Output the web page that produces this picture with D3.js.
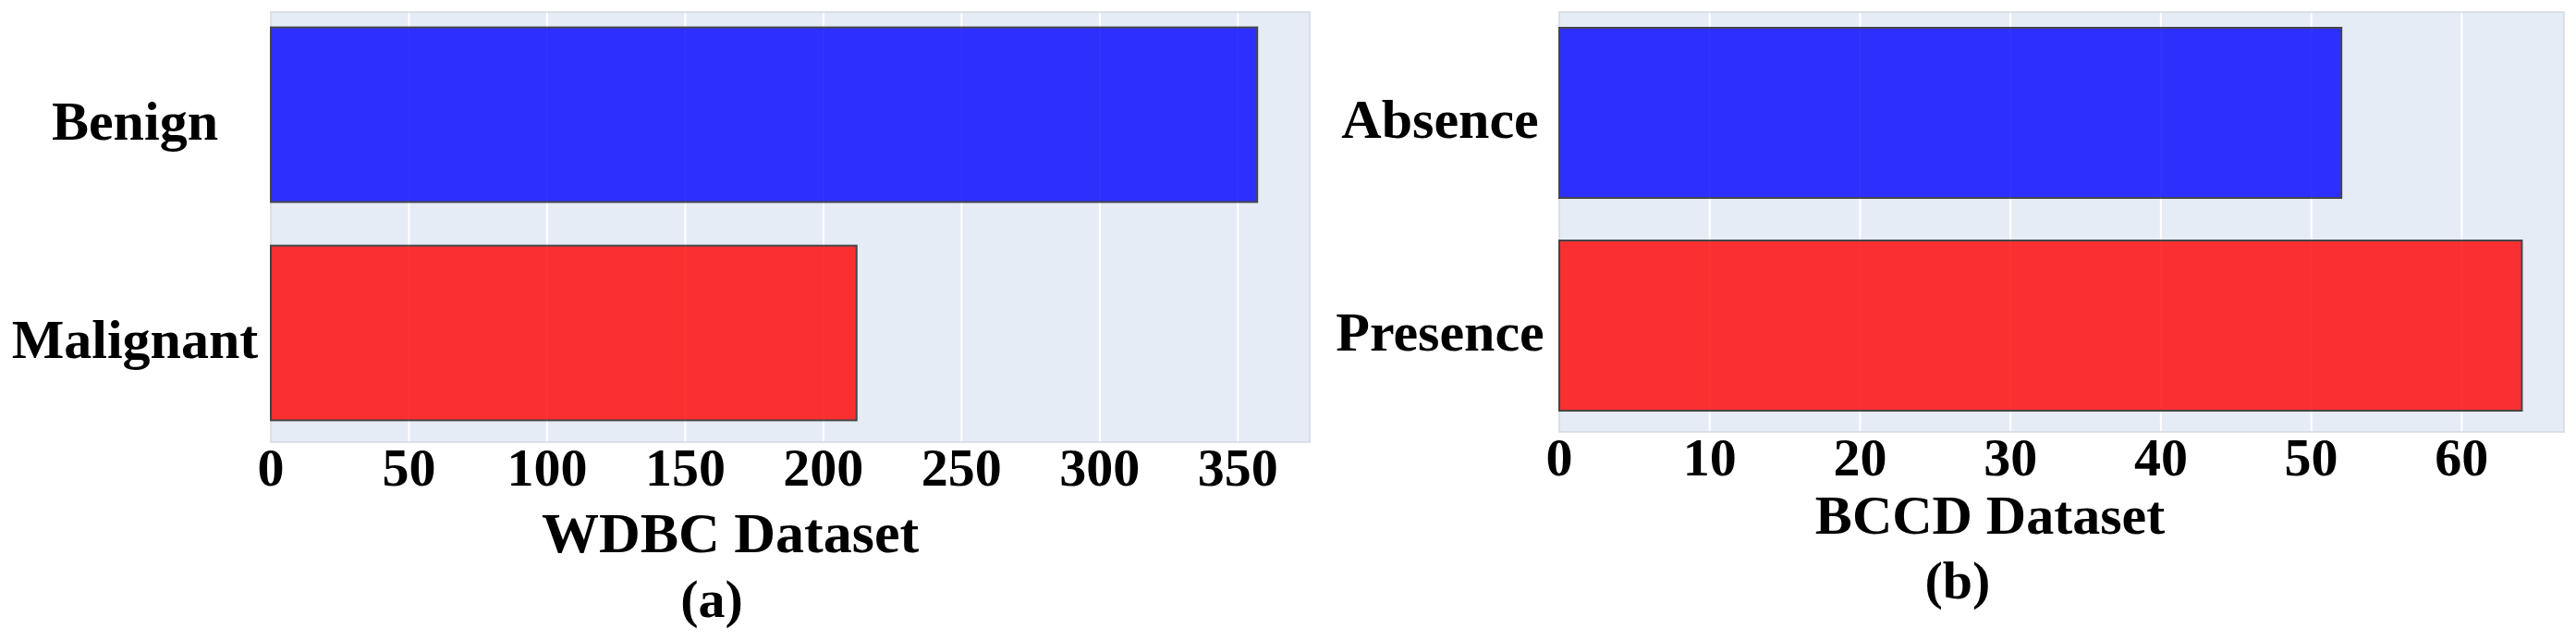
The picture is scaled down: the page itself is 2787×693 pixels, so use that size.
<!doctype html>
<html>
<head>
<meta charset="utf-8">
<title>WDBC / BCCD</title>
<script src="https://d3js.org/d3.v7.min.js"></script>
<style>
  body { margin: 0; background: #fff; }
  text { font-family: "Liberation Serif", "Times New Roman", serif; font-weight: bold; fill: #000; }
</style>
</head>
<body>
<script>
// data
var wdbcCats = ["Benign", "Malignant"];
var wdbcVals = [357, 212];
var bccdCats = ["Absence", "Presence"];
var bccdVals = [52, 64];
var barColors = ["#0000ff", "#ff0000"];
var wdbcTicks = [0, 50, 100, 150, 200, 250, 300, 350];
var bccdTicks = [0, 10, 20, 30, 40, 50, 60];

var width = 2787, height = 693;

var svg = d3.select("body").append("svg")
    .attr("width", width)
    .attr("height", height);

// left panel
drawPanel({
  cats: wdbcCats, vals: wdbcVals, ticks: wdbcTicks, xMax: 376,
  x0: 293, x1: 1417, top: 13, bottom: 478, bandTop: 6,
  labelX: 146, tickY: 525,
  title: "WDBC Dataset", titleX: 790, titleY: 597, titleSize: 62,
  sub: "(a)", subX: 770, subY: 667
});

// right panel
drawPanel({
  cats: bccdCats, vals: bccdVals, ticks: bccdTicks, xMax: 66.8,
  x0: 1687, x1: 2774, top: 13, bottom: 467, bandTop: 7,
  labelX: 1558, tickY: 514,
  title: "BCCD Dataset", titleX: 2153, titleY: 577, titleSize: 60,
  sub: "(b)", subX: 2118, subY: 647
});

function drawPanel(o) {
  var x = d3.scaleLinear().domain([0, o.xMax]).range([o.x0, o.x1]);
  var y = d3.scaleBand().domain(o.cats).range([o.bandTop, o.bottom])
      .paddingInner(0.2).paddingOuter(0.1);

  var g = svg.append("g");

  // plot background
  g.append("rect")
      .attr("x", o.x0).attr("y", o.top)
      .attr("width", o.x1 - o.x0).attr("height", o.bottom - o.top)
      .attr("fill", "#e5ecf6");

  // grid
  g.selectAll(".grid").data(o.ticks.filter(function(d){ return d > 0; }))
    .enter().append("line")
      .attr("x1", function(d){ return x(d); })
      .attr("x2", function(d){ return x(d); })
      .attr("y1", o.top).attr("y2", o.bottom)
      .attr("stroke", "#fff").attr("stroke-width", 2);

  // frame lines
  g.append("rect")
      .attr("x", o.x0).attr("y", o.top)
      .attr("width", o.x1 - o.x0).attr("height", o.bottom - o.top)
      .attr("fill", "none").attr("stroke", "#d3d8e0").attr("stroke-width", 1.5);

  // bars
  g.selectAll(".bar").data(o.cats)
    .enter().append("rect")
      .attr("x", x(0))
      .attr("y", function(d){ return y(d); })
      .attr("width", function(d, i){ return x(o.vals[i]) - x(0); })
      .attr("height", y.bandwidth())
      .attr("fill", function(d, i){ return barColors[i]; })
      .attr("stroke", "#1e1e1e").attr("stroke-width", 2)
      .attr("opacity", 0.8);

  // x tick labels
  g.selectAll(".tick").data(o.ticks)
    .enter().append("text")
      .attr("x", function(d){ return x(d); })
      .attr("y", o.tickY)
      .attr("text-anchor", "middle")
      .style("font-size", "58px")
      .text(function(d){ return d; });

  // category labels
  g.selectAll(".cat").data(o.cats)
    .enter().append("text")
      .attr("x", o.labelX)
      .attr("y", function(d){ return y(d) + y.bandwidth() / 2 + 27; })
      .attr("text-anchor", "middle")
      .style("font-size", "60px")
      .text(function(d){ return d; });

  g.append("text")
      .attr("x", o.titleX).attr("y", o.titleY)
      .attr("text-anchor", "middle")
      .style("font-size", o.titleSize + "px")
      .text(o.title);

  g.append("text")
      .attr("x", o.subX).attr("y", o.subY)
      .attr("text-anchor", "middle")
      .style("font-size", "58px")
      .text(o.sub);
}
</script>
</body>
</html>
